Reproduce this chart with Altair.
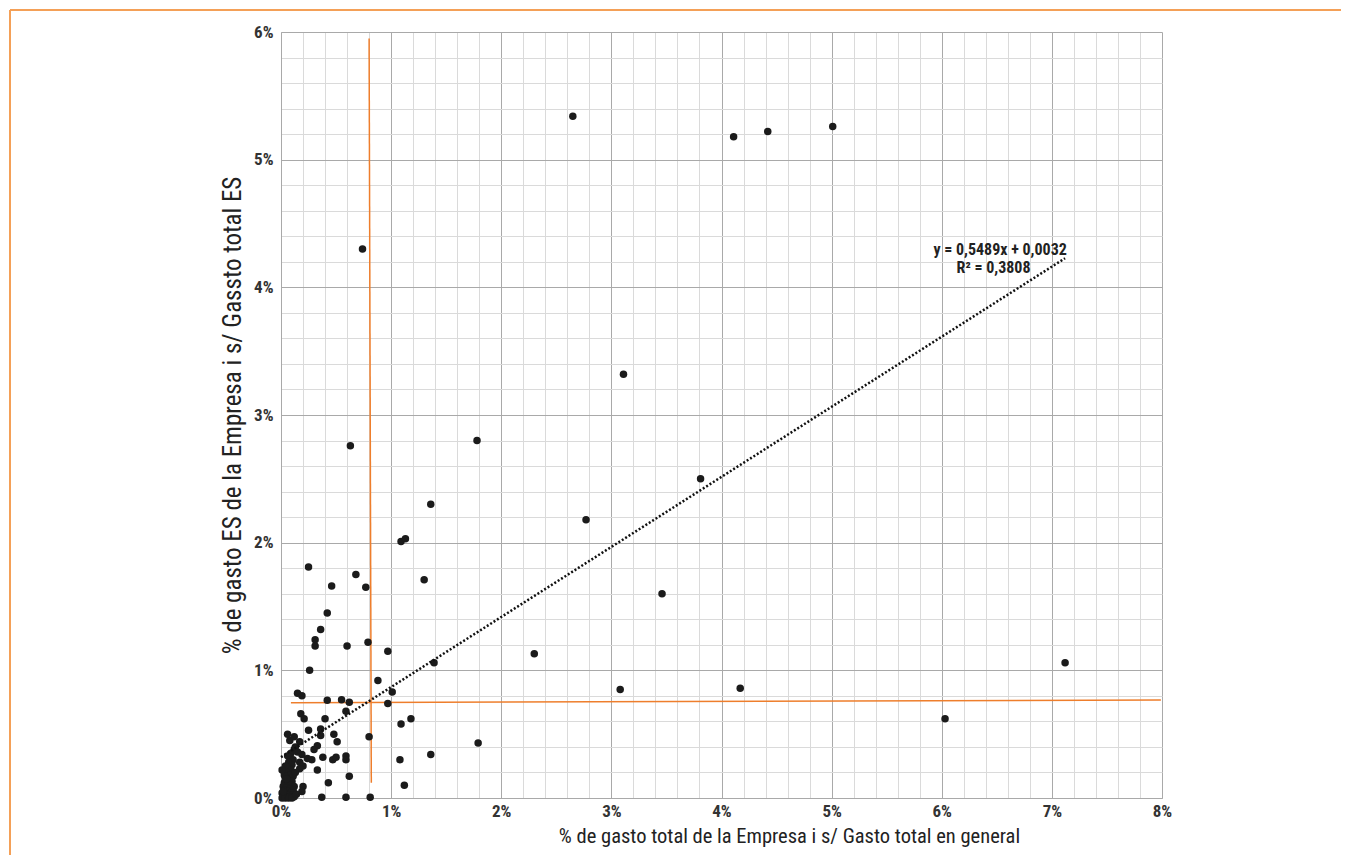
import altair as alt
import pandas as pd

# ---- data (percent units) ----
xs = [2.65, 4.11, 4.42, 5.01, 0.74, 3.11, 0.63, 1.78, 3.81, 1.36, 2.77, 1.09, 1.13,
      0.25, 0.68, 1.30, 0.46, 0.77, 3.46, 0.42, 0.36, 0.31, 0.31, 0.60, 0.79, 0.97,
      2.30, 1.39, 7.12, 0.26, 0.88, 3.08, 4.17, 0.15, 0.19, 1.01,
      0.42, 0.55, 0.62, 0.97, 0.59, 0.18, 0.21, 0.40, 1.18, 6.03, 1.09,
      0.25, 0.36, 0.48, 0.36, 0.80, 0.51, 0.17, 1.79, 0.33, 0.30, 0.12,
      0.19, 0.24, 0.28, 0.17, 0.20, 0.38, 0.47, 0.50, 0.59, 0.59, 1.36, 1.08,
      0.33, 0.17, 0.62, 0.43, 1.12, 0.20, 0.19, 0.37, 0.59, 0.81,
      0.06, 0.08, 0.12,
      0.09, 0.08, 0.11, 0.07, 0.10, 0.06, 0.09, 0.05, 0.08, 0.11, 0.04, 0.07, 0.10,
      0.03, 0.06, 0.09, 0.12, 0.02, 0.05, 0.08, 0.11, 0.03, 0.06, 0.09, 0.01, 0.04,
      0.07, 0.10, 0.02, 0.05, 0.08, 0.12, 0.01, 0.04, 0.07, 0.10, 0.14, 0.13,
      0.03, 0.05, 0.02, 0.04, 0.13, 0.15, 0.01, 0.06]
ys = [5.34, 5.18, 5.22, 5.26, 4.30, 3.32, 2.76, 2.80, 2.50, 2.30, 2.18, 2.01, 2.03,
      1.81, 1.75, 1.71, 1.66, 1.65, 1.60, 1.45, 1.32, 1.24, 1.19, 1.19, 1.22, 1.15,
      1.13, 1.06, 1.06, 1.00, 0.92, 0.85, 0.86, 0.82, 0.80, 0.83,
      0.765, 0.77, 0.75, 0.74, 0.68, 0.66, 0.62, 0.62, 0.62, 0.62, 0.58,
      0.53, 0.54, 0.50, 0.49, 0.48, 0.44, 0.44, 0.43, 0.41, 0.38, 0.38,
      0.34, 0.31, 0.30, 0.28, 0.25, 0.32, 0.30, 0.32, 0.33, 0.30, 0.34, 0.30,
      0.22, 0.23, 0.17, 0.12, 0.10, 0.09, 0.05, 0.005, 0.005, 0.005,
      0.50, 0.45, 0.48,
      0.35, 0.32, 0.30, 0.28, 0.26, 0.24, 0.22, 0.20, 0.18, 0.17, 0.16, 0.14, 0.13,
      0.12, 0.11, 0.10, 0.09, 0.09, 0.08, 0.07, 0.06, 0.06, 0.05, 0.04, 0.04, 0.03,
      0.02, 0.02, 0.01, 0.01, 0.01, 0.01, 0.0, 0.0, 0.0, 0.0, 0.03, 0.20,
      0.18, 0.15, 0.05, 0.25, 0.40, 0.36, 0.22, 0.33]

# trendline as stated on the chart: y = 0,5489x + 0,0032 (fractions)
slope = 0.5489
intercept = 0.0032
trend_label_1 = "y = 0,5489x + 0,0032"
trend_label_2 = "R² = 0,3808"

# orange reference lines (approx. averages)
ref_x = [0.80, 0.09]
ref_x2 = [0.82, 7.99]
ref_y = [5.95, 0.746]
ref_y2 = [0.12, 0.767]

x_title = "% de gasto total de la Empresa i s/ Gasto total en general"
y_title = "% de gasto ES de la Empresa i s/ Gassto total ES"

x_ticks = [round(i * 0.2, 1) for i in range(41)]
y_ticks = [round(i * 0.2, 1) for i in range(31)]

FONT = "Liberation Sans Narrow, Roboto Condensed, Roboto, sans-serif"
is_major = "abs(datum.value - round(datum.value)) < 0.001"
grid_color = {"condition": {"test": is_major, "value": "#a9a9a9"}, "value": "#dadada"}
label_expr = is_major + " ? format(datum.value, 'd') + '%' : ''"

pts = pd.DataFrame({"x": xs, "y": ys})
xmax = max(xs)
trend = pd.DataFrame({"x": [0.0, xmax],
                      "y": [intercept * 100, (slope * xmax / 100 + intercept) * 100]})
refs = pd.DataFrame({"x": ref_x, "x2": ref_x2, "y": ref_y, "y2": ref_y2})
labels = pd.DataFrame({"x": [6.53, 6.47], "y": [4.29, 4.15],
                       "t": [trend_label_1, trend_label_2]})

xscale = alt.Scale(domain=[0, 8], nice=False)
yscale = alt.Scale(domain=[0, 6], nice=False)

x_axis = alt.Axis(values=x_ticks, tickCount=41, grid=True, gridColor=grid_color, gridWidth=1,
                  ticks=False, domainColor="#a9a9a9", labelExpr=label_expr,
                  labelOverlap=False, labelFlush=False, labelFont=FONT,
                  labelFontSize=17, labelFontWeight="bold", labelColor="#333333",
                  labelPadding=5, title=x_title, titleFont=FONT, titleFontSize=20.5,
                  titleFontWeight="normal", titleColor="#222222", titleX=508, titleY=38,
                  titleBaseline="middle")
y_axis = alt.Axis(values=y_ticks, tickCount=31, grid=True, gridColor=grid_color, gridWidth=1,
                  ticks=False, domainColor="#a9a9a9", labelExpr=label_expr,
                  labelOverlap=False, labelFlush=False, labelFont=FONT,
                  labelFontSize=17, labelFontWeight="bold", labelColor="#333333",
                  labelPadding=8, title=y_title, titleFont=FONT, titleFontSize=25,
                  titleFontWeight="normal", titleColor="#222222", titleX=-49, titleY=383,
                  titleBaseline="middle", titleAngle=-90)

base_pts = alt.Chart(pts).mark_circle(size=56, color="#1b1b1b", opacity=1).encode(
    x=alt.X("x:Q", scale=xscale, axis=x_axis),
    y=alt.Y("y:Q", scale=yscale, axis=y_axis),
)

ref_lines = alt.Chart(refs).mark_rule(color="#EE7E2C", strokeWidth=1.5).encode(
    x="x:Q", x2="x2:Q", y="y:Q", y2="y2:Q")

trend_line = alt.Chart(trend).mark_line(color="#111111", strokeWidth=2.5,
                                        strokeDash=[2, 2]).encode(x="x:Q", y="y:Q")

trend_text = alt.Chart(labels).mark_text(font=FONT, fontSize=16, fontWeight="bold",
                                         color="#222222", align="center",
                                         baseline="middle").encode(
    x="x:Q", y="y:Q", text="t:N")

frame_left = alt.Chart(pts).mark_rule(color="#F4A057", strokeWidth=2).encode(
    x=alt.value(-271), y=alt.value(-22), y2=alt.value(831))
frame_top = alt.Chart(pts).mark_rule(color="#F4A057", strokeWidth=2).encode(
    x=alt.value(-271), x2=alt.value(1068), y=alt.value(-22))

chart = alt.layer(ref_lines, base_pts, trend_line, trend_text, frame_left, frame_top).properties(
    width=881, height=766, autosize="none",
    padding={"left": 273, "top": 24, "right": 179, "bottom": 57},
).configure_view(stroke=None)

chart.save("out.html", embed_options={"renderer": "svg", "actions": False})
